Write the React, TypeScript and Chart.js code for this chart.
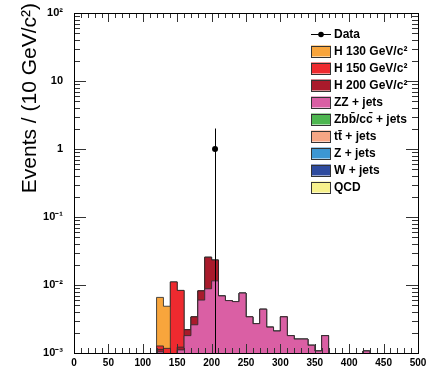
import React, { useEffect, useRef } from "react";
import { Chart, registerables } from "chart.js";

Chart.register(...registerables);

// ---------------- data ----------------
const BIN_WIDTH = 10; // GeV/c^2
const X_MIN = 0;
const X_MAX = 500;
const Y_MIN = 1e-3;
const Y_MAX = 1e2;

// events per 10 GeV/c^2 bin, bins 0..490 (low edges)
const zzJets = [
  0, 0, 0, 0, 0, 0, 0, 0, 0, 0,
  0, 0, 0.00104, 0, 0, 0.00111, 0.0018, 0.0026, 0.006, 0.0088,
  0.0115, 0.0069, 0.0059, 0.0057, 0.0076, 0.0034, 0.0027, 0.0044, 0.0024, 0.0021,
  0.0034, 0.0018, 0.0016, 0.0016, 0.0013, 0.00107, 0.0018, 0, 0, 0,
  0, 0, 0.00107, 0, 0, 0, 0, 0, 0, 0,
];
const higgs200 = [
  0, 0, 0, 0, 0, 0, 0, 0, 0, 0,
  0, 0, 0.00009, 0, 0, 0.00011, 0.0004, 0.0008, 0.0022, 0.0168,
  0.0118, 0, 0, 0, 0, 0, 0, 0, 0, 0,
  0, 0, 0, 0, 0, 0, 0, 0, 0, 0,
  0, 0, 0, 0, 0, 0, 0, 0, 0, 0,
];
const higgs150 = [
  0, 0, 0, 0, 0, 0, 0, 0, 0, 0,
  0, 0, 0.00014, 0.00117, 0.0111, 0.0071, 0, 0, 0, 0,
  0, 0, 0, 0, 0, 0, 0, 0, 0, 0,
  0, 0, 0, 0, 0, 0, 0, 0, 0, 0,
  0, 0, 0, 0, 0, 0, 0, 0, 0, 0,
];
const higgs130 = [
  0, 0, 0, 0, 0, 0, 0, 0, 0, 0,
  0, 0, 0.0053, 0.0037, 0, 0, 0, 0, 0, 0,
  0, 0, 0, 0, 0, 0, 0, 0, 0, 0,
  0, 0, 0, 0, 0, 0, 0, 0, 0, 0,
  0, 0, 0, 0, 0, 0, 0, 0, 0, 0,
];

const dataMass = [205];
const dataEvents = [1];
const dataErrUp = [1];
const dataErrDown = [1];

const xTickValues = [0, 50, 100, 150, 200, 250, 300, 350, 400, 450, 500];
const xTickLabels = ["0", "50", "100", "150", "200", "250", "300", "350", "400", "450", "500"];
const yTickValues = [1e-3, 1e-2, 1e-1, 1, 10, 100];
const yTickLabels = ["10\u207B\u00B3", "10\u207B\u00B2", "10\u207B\u00B9", "1", "10", "10\u00B2"];

const yTitle = "Events / (10 GeV/c\u00B2)";

const legendEntries = [
  { label: "Data", color: "", kind: "data" },
  { label: "H 130 GeV/c\u00B2", color: "#F8A53C", kind: "box" },
  { label: "H 150 GeV/c\u00B2", color: "#EE2A2F", kind: "box" },
  { label: "H 200 GeV/c\u00B2", color: "#A91A2B", kind: "box" },
  { label: "ZZ + jets", color: "#DA5FA4", kind: "box" },
  { label: "Zbb\u0304/cc\u0304 + jets", color: "#4DB750", kind: "box" },
  { label: "tt\u0304 + jets", color: "#F6A684", kind: "box" },
  { label: "Z + jets", color: "#3C97D3", kind: "box" },
  { label: "W + jets", color: "#2E4B9F", kind: "box" },
  { label: "QCD", color: "#F7F18C", kind: "box" },
];

// stack, bottom -> top
const stackSeries = [
  { values: zzJets, color: "#DA5FA4" },
  { values: higgs200, color: "#A91A2B" },
  { values: higgs150, color: "#EE2A2F" },
  { values: higgs130, color: "#F8A53C" },
];

const LOG_FLOOR = 1e-6; // empty bins drawn below the axis minimum

function buildStackDatasets() {
  const n = zzJets.length;
  const cum = new Array(n).fill(0);
  const ds: any[] = [];
  stackSeries.forEach((s, k) => {
    for (let i = 0; i < n; i++) cum[i] += s.values[i];
    const pts = cum.map((v, i) => ({ x: X_MIN + i * BIN_WIDTH, y: v > 0 ? v : LOG_FLOOR }));
    const last = cum[n - 1];
    pts.push({ x: X_MIN + n * BIN_WIDTH, y: last > 0 ? last : LOG_FLOOR });
    ds.push({
      type: "line",
      data: pts,
      stepped: "before",
      fill: "start",
      backgroundColor: s.color,
      borderColor: "rgba(45,45,45,0.85)",
      borderWidth: 1,
      pointRadius: 0,
      order: 2 + k,
    });
  });
  return ds;
}

const FONT = '"Liberation Sans", Arial, Helvetica, sans-serif';

const rootStyle = {
  id: "rootStyle",
  afterDatasetsDraw(chart: any) {
    const { ctx, chartArea: a, scales } = chart;
    const xs = scales.x;
    const ys = scales.y;
    ctx.save();
    // data error bars
    ctx.strokeStyle = "#000";
    ctx.lineWidth = 1;
    ctx.beginPath();
    dataMass.forEach((m, i) => {
      const px = Math.round(xs.getPixelForValue(m)) + 0.5;
      const hi = dataEvents[i] + dataErrUp[i];
      const lo = dataEvents[i] - dataErrDown[i];
      const pyHi = ys.getPixelForValue(hi);
      const pyLo = lo > 0 ? ys.getPixelForValue(lo) : a.bottom;
      ctx.moveTo(px, Math.max(pyHi, a.top));
      ctx.lineTo(px, Math.min(pyLo, a.bottom));
    });
    ctx.stroke();

    // ticks (inward, on all four sides)
    ctx.strokeStyle = "#333";
    ctx.beginPath();
    for (let v = X_MIN; v <= X_MAX; v += BIN_WIDTH) {
      const px = Math.round(xs.getPixelForValue(v)) + 0.5;
      const len = xTickValues.includes(v) ? 9 : 5;
      ctx.moveTo(px, a.bottom);
      ctx.lineTo(px, a.bottom - len);
      ctx.moveTo(px, a.top);
      ctx.lineTo(px, a.top + len);
    }
    for (let d = 0; d < yTickValues.length; d++) {
      const dec = yTickValues[d];
      for (let m = 1; m <= 9; m++) {
        const v = dec * m;
        if (v > Y_MAX * 1.0001) break;
        const py = Math.round(ys.getPixelForValue(v)) + 0.5;
        const len = m === 1 ? 12 : 6;
        ctx.moveTo(a.left, py);
        ctx.lineTo(a.left + len, py);
        ctx.moveTo(a.right, py);
        ctx.lineTo(a.right - len, py);
      }
    }
    ctx.stroke();

    // frame
    ctx.strokeStyle = "#000";
    ctx.strokeRect(
      Math.round(a.left) + 0.5,
      Math.round(a.top) + 0.5,
      Math.round(a.right - a.left),
      Math.round(a.bottom - a.top)
    );
    ctx.restore();
  },
  afterDraw(chart: any) {
    const { ctx, chartArea: a, scales } = chart;
    const xs = scales.x;

    // x tick labels
    ctx.save();
    ctx.font = `bold 10px ${FONT}`;
    ctx.fillStyle = "#000";
    ctx.textAlign = "center";
    ctx.textBaseline = "top";
    xTickValues.forEach((v, i) => {
      ctx.fillText(xTickLabels[i], xs.getPixelForValue(v), a.bottom + 5);
    });
    ctx.restore();

    // y title (right-aligned to the top, like ROOT)
    ctx.save();
    ctx.translate(36, 3);
    ctx.rotate(-Math.PI / 2);
    ctx.font = `21px ${FONT}`;
    ctx.fillStyle = "#000";
    ctx.textAlign = "right";
    ctx.textBaseline = "alphabetic";
    ctx.fillText(yTitle, 0, 0);
    ctx.restore();

    // legend
    ctx.save();
    ctx.font = `bold 12px ${FONT}`;
    ctx.textBaseline = "middle";
    ctx.textAlign = "left";
    legendEntries.forEach((e, i) => {
      const cy = 34 + i * 17;
      if (e.kind === "data") {
        ctx.strokeStyle = "#000";
        ctx.lineWidth = 1;
        ctx.beginPath();
        ctx.moveTo(311, Math.round(cy) + 0.5);
        ctx.lineTo(331, Math.round(cy) + 0.5);
        ctx.stroke();
        ctx.fillStyle = "#000";
        ctx.beginPath();
        ctx.arc(321, Math.round(cy) + 0.5, 2.8, 0, Math.PI * 2);
        ctx.fill();
      } else {
        ctx.fillStyle = e.color;
        ctx.fillRect(311, cy - 5.5, 20, 11);
        ctx.strokeStyle = "#333";
        ctx.lineWidth = 1;
        ctx.strokeRect(311.5, Math.round(cy - 5.5) + 0.5, 19, 11);
      }
      ctx.fillStyle = "#000";
      ctx.fillText(e.label, 334, cy + 0.5);
    });
    ctx.restore();
  },
};

export default function App() {
  const ref = useRef<HTMLCanvasElement | null>(null);
  useEffect(() => {
    document.body.style.margin = "0";
    const canvas = ref.current;
    if (!canvas) return;
    const datasets: any[] = buildStackDatasets();
    datasets.push({
      type: "line",
      data: dataMass.map((m, i) => ({ x: m, y: dataEvents[i] })),
      showLine: false,
      pointRadius: 3,
      pointStyle: "circle",
      pointBackgroundColor: "#000",
      pointBorderColor: "#000",
      pointBorderWidth: 0,
      order: 1,
    });
    const chart = new Chart(canvas, {
      type: "line",
      data: { datasets },
      options: {
        animation: false,
        responsive: false,
        devicePixelRatio: 1,
        layout: { padding: { left: 0, right: 8, top: 13, bottom: 0 } },
        plugins: { legend: { display: false }, tooltip: { enabled: false } },
        events: [],
        scales: {
          x: {
            type: "linear",
            min: X_MIN,
            max: X_MAX,
            grid: { display: false },
            border: { display: false },
            afterBuildTicks: (s: any) => {
              s.ticks = xTickValues.map((v) => ({ value: v }));
            },
            ticks: { display: false },
            afterFit: (s: any) => {
              s.height = 14;
              s.paddingLeft = 0;
              s.paddingRight = 0;
            },
          },
          y: {
            type: "logarithmic",
            min: Y_MIN,
            max: Y_MAX,
            grid: { display: false },
            border: { display: false },
            afterBuildTicks: (s: any) => {
              s.ticks = yTickValues.map((v) => ({ value: v }));
            },
            ticks: {
              autoSkip: false,
              padding: 3,
              color: "#000",
              font: { family: FONT, size: 11, weight: "bold" },
              callback: (v: any) => {
                const i = yTickValues.findIndex((t) => Math.abs(t - v) / t < 1e-6);
                return i >= 0 ? yTickLabels[i] : "";
              },
            },
            afterFit: (s: any) => {
              s.width = 74;
              s.paddingTop = 0;
              s.paddingBottom = 0;
            },
          },
        },
      },
      plugins: [rootStyle],
    } as any);
    return () => chart.destroy();
  }, []);
  return (
    <canvas
      ref={ref}
      width={426}
      height={367}
      style={{ display: "block", width: 426, height: 367 }}
    />
  );
}
